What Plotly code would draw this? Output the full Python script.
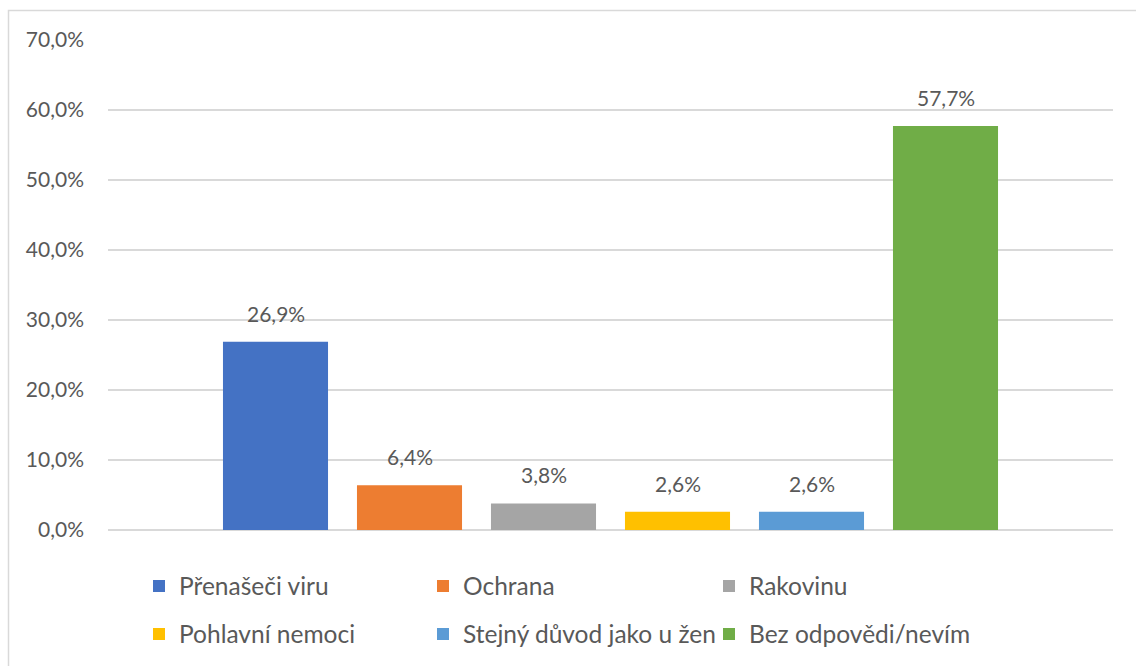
import plotly.graph_objects as go

# Survey answers: one bar per reason, values in percent
categories = ["Přenašeči viru", "Ochrana", "Rakovinu",
              "Pohlavní nemoci", "Stejný důvod jako u žen", "Bez odpovědi/nevím"]
values = [26.9, 6.4, 3.8, 2.6, 2.6, 57.7]
colors = ["#4472C4", "#ED7D31", "#A5A5A5", "#FFC000", "#5B9BD5", "#70AD47"]
y_ticks = [0, 10, 20, 30, 40, 50, 60, 70]


def pct(v):
    return f"{v:.1f}%".replace(".", ",")


FONT = "Lato"
TEXT_COLOR = "#595959"

W, H = 1136, 666
L, R, T, B = 108, 23, 40, 136
plot_w = W - L - R
plot_h = H - T - B


def px_x(px):
    return (px - L) / plot_w


def px_y(py):
    return (H - B - py) / plot_h


fig = go.Figure()
legend_names = ["legend", "legend2", "legend3", "legend4", "legend5", "legend6"]
for i, (name, val, col) in enumerate(zip(categories, values, colors)):
    fig.add_trace(go.Bar(
        x=[0], y=[val], name=name,
        marker=dict(color=col, line=dict(width=0)),
        legend=legend_names[i],
        hovertemplate="%{y:.1f}%<extra>" + name + "</extra>",
    ))

# value labels above each bar
n = len(values)
group_w = 0.8
slot = group_w / n
for i, val in enumerate(values):
    xc = -group_w / 2 + slot * (i + 0.5)
    fig.add_annotation(
        x=xc, y=val, xref="x", yref="y",
        text=pct(val),
        showarrow=False, yanchor="bottom", yshift=14,
        font=dict(family=FONT, size=21, color=TEXT_COLOR),
    )

# legend: three columns, two rows
col_px = [139, 423, 709]
row_px = [586, 634]
layout_legends = {}
for i, lname in enumerate(legend_names):
    layout_legends[lname] = dict(
        x=px_x(col_px[i % 3]), y=px_y(row_px[i // 3]),
        xanchor="left", yanchor="middle",
        orientation="v", bgcolor="rgba(0,0,0,0)", borderwidth=0,
        font=dict(family=FONT, size=24.5, color=TEXT_COLOR),
    )

fig.update_layout(
    width=W, height=H,
    margin=dict(l=L, r=R, t=T, b=B, autoexpand=False),
    paper_bgcolor="white", plot_bgcolor="white",
    barmode="group", bargap=0.2, bargroupgap=0.216,
    showlegend=True,
    font=dict(family=FONT, size=21, color=TEXT_COLOR),
    xaxis=dict(range=[-0.5, 0.5], showticklabels=False, showgrid=False,
               zeroline=False, showline=False, fixedrange=True),
    yaxis=dict(range=[0, 70], tickmode="array", tickvals=y_ticks,
               ticktext=[pct(v) for v in y_ticks],
               showgrid=True, gridcolor="#d9d9d9", gridwidth=1.5,
               zeroline=True, zerolinecolor="#d9d9d9", zerolinewidth=1.5,
               showline=False, ticks="", ticklabelstandoff=23,
               tickfont=dict(family=FONT, size=21, color=TEXT_COLOR)),
    shapes=[dict(type="rect", xref="paper", yref="paper",
                 x0=px_x(8.5), x1=px_x(1150), y0=px_y(680), y1=px_y(10.5),
                 line=dict(color="#d9d9d9", width=1.5), fillcolor="rgba(0,0,0,0)",
                 layer="below")],
    **layout_legends,
)

fig.write_html("out.html")
